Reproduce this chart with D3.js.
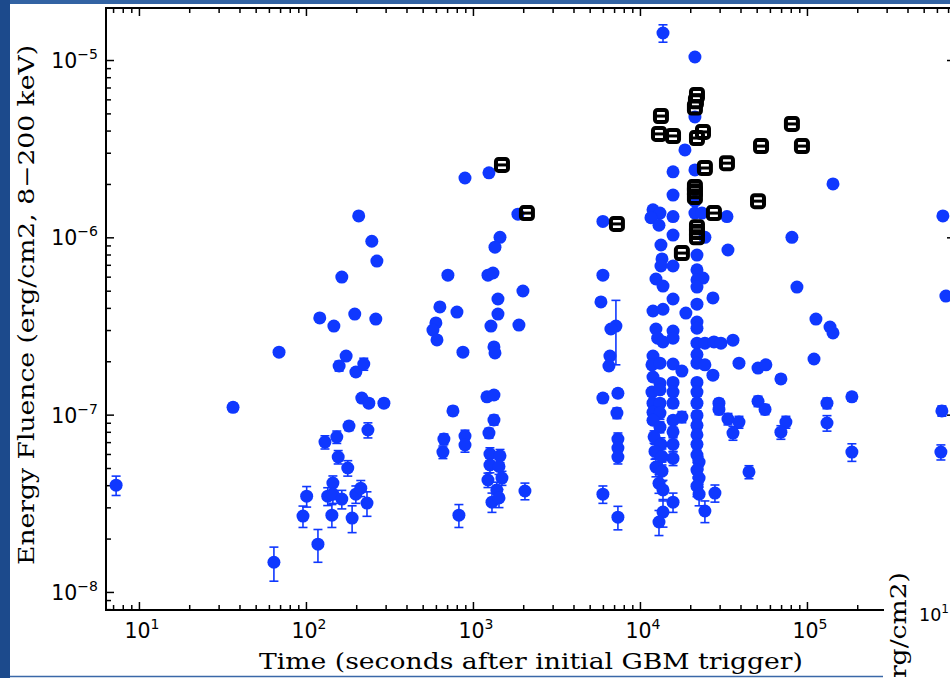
<!DOCTYPE html>
<html><head><meta charset="utf-8">
<script src="https://cdn.jsdelivr.net/npm/d3@7"></script>
<style>body{margin:0;background:#fff;overflow:hidden}svg{display:block}</style>
</head><body>
<svg id="c" width="950" height="678"></svg>
<script>
// ---- data ----
const circleTime = [7.3,36.6,69,64.3,96,101,118,207,248,266,164,121,147,196,262,174,158,199,222,216,238,293,181,235,153,130,156,178,145,135,145,164,199,213,232,143,189,
896,1247,1859,6000,1452,1355,708,1230,1318,1992,634,802,1412,1412,600,576,609,1282,1885,871,1336,1355,1213,1336,759,1336,1247,670,896,896,661,1264,1452,1264,1432,1230,1492,1390,1300,1432,824,2048,
6000,5840,7180,6700,6610,6520,6000,7380,7280,7380,7380,7380,6000,7380,
13740,21340,21340,18600,15780,21340,143200,15780,21340,11970,13180,11640,13000,15780,21340,23500,33190,651600,15780,24490,81280,13360,33650,21950,13550,13360,15780,21950,23850,12470,13740,21950,21950,87100,679000,27350,15780,21950,11970,13740,18840,21950,21950,12470,15780,113200,137400,143200,12770,13740,15780,21950,24490,27730,30550,36060,11970,21950,11800,13180,15780,17830,21950,24490,39170,50930,56760,110200,27350,69830,11970,13180,15780,21950,11800,13180,15780,21950,642700,11970,13180,15780,21950,29720,29720,50930,56100,131800,185800,11970,13180,17830,33650,39170,74800,131800,36060,69830,185800,634000,12470,13550,13000,13740,15780,15780,13740,13000,21950,22600,21950,22600,21950,22600,24490,28120,44960,11970,13180,12150,13360,12300,13550,15780,15780,15780,21950,21950,21950,21950];
const circleFluence = [4.0e-8,1.10e-7,2.25e-7,1.47e-8,2.68e-8,3.47e-8,1.86e-8,1.32e-6,9.5e-7,7.35e-7,5.97e-7,3.51e-7,3.16e-7,3.69e-7,3.46e-7,2.14e-7,1.88e-7,1.74e-7,1.93e-7,1.24e-7,1.16e-7,1.16e-7,8.63e-8,8.19e-8,7.48e-8,7.0e-8,5.77e-8,5.0e-8,4.11e-8,3.47e-8,3.56e-8,3.34e-8,3.56e-8,3.85e-8,3.17e-8,2.71e-8,2.61e-8,
2.16e-6,2.31e-6,1.35e-6,1.23e-6,1.0e-6,8.8e-7,6.12e-7,6.12e-7,6.29e-7,4.98e-7,4.05e-7,3.79e-7,4.49e-7,3.69e-7,3.29e-7,3.0e-7,2.64e-7,3.16e-7,3.2e-7,2.25e-7,2.41e-7,2.23e-7,1.26e-7,1.29e-7,1.05e-7,9.33e-8,7.87e-8,7.28e-8,7.57e-8,6.74e-8,6.15e-8,6.0e-8,5.86e-8,5.2e-8,5.1e-8,4.28e-8,4.39e-8,3.76e-8,3.21e-8,3.39e-8,2.71e-8,3.71e-8,
6.12e-7,4.32e-7,3.16e-7,3.04e-7,2.14e-7,1.88e-7,1.24e-7,1.32e-7,1.02e-7,7.28e-8,6.48e-8,5.77e-8,3.56e-8,2.64e-8,
1.42e-5,1.04e-5,4.77e-6,3.11e-6,2.34e-6,2.40e-6,2.0e-6,1.73e-6,1.6e-6,1.43e-6,1.37e-6,1.29e-6,1.17e-6,1.31e-6,1.37e-6,1.37e-6,1.31e-6,1.32e-6,1.03e-6,1.0e-6,1.0e-6,9.05e-7,8.48e-7,7.94e-7,7.55e-7,6.89e-7,6.89e-7,6.56e-7,5.89e-7,5.82e-7,5.31e-7,5.75e-7,5.24e-7,5.24e-7,4.66e-7,4.55e-7,4.49e-7,4.2e-7,3.84e-7,3.93e-7,3.74e-7,3.33e-7,3.07e-7,3.04e-7,2.96e-7,3.46e-7,3.12e-7,2.89e-7,2.70e-7,2.57e-7,2.70e-7,2.53e-7,2.53e-7,2.57e-7,2.53e-7,2.63e-7,2.14e-7,2.18e-7,1.91e-7,1.95e-7,1.93e-7,1.76e-7,1.95e-7,1.91e-7,1.95e-7,1.83e-7,1.91e-7,2.06e-7,1.67e-7,1.59e-7,1.63e-7,1.5e-7,1.52e-7,1.52e-7,1.34e-7,1.38e-7,1.34e-7,1.34e-7,1.05e-7,1.16e-7,1.16e-7,1.16e-7,1.16e-7,1.16e-7,1.07e-7,1.19e-7,1.07e-7,1.16e-7,1.26e-7,1.03e-7,1.02e-7,9.7e-8,9.45e-8,9.08e-8,9.08e-8,8.97e-8,7.87e-8,7.96e-8,6.15e-8,6.15e-8,5.06e-8,4.8e-8,4.1e-8,3.76e-8,5.66e-8,3.21e-8,2.82e-8,2.48e-8,5.92e-8,5.4e-8,4.87e-8,4.39e-8,3.95e-8,3.56e-8,2.86e-8,3.61e-8,4.75e-8,9.3e-8,8.5e-8,7.5e-8,6.8e-8,6.2e-8,5.8e-8,9.3e-8,8.0e-8,6.8e-8,9.9e-8,8.7e-8,7.7e-8,6.8e-8];
const circleError = [5e-9,6e-9,8e-9,3.2e-9,3.7e-9,4.6e-9,3.9e-9,2e-8,2e-8,2e-8,1.5e-8,1e-8,1e-8,1e-8,1e-8,8e-9,1.2e-8,8e-9,1.5e-8,6e-9,6e-9,6e-9,5e-9,8e-9,6e-9,6e-9,5e-9,5e-9,4e-9,4e-9,4e-9,4e-9,4e-9,4e-9,5e-9,4e-9,4.5e-9,
3e-8,3e-8,2e-8,2e-8,2e-8,2e-8,1.5e-8,1.5e-8,1.5e-8,1.2e-8,1e-8,1e-8,1e-8,1e-8,1e-8,1e-8,8e-9,1e-8,1e-8,8e-9,8e-9,8e-9,6e-9,6e-9,6e-9,6e-9,5e-9,5e-9,6e-9,6e-9,5e-9,5e-9,5e-9,5e-9,5e-9,4e-9,4e-9,4e-9,4e-9,4e-9,4e-9,4e-9,
1.5e-8,1e-8,1.25e-7,1e-8,8e-9,8e-9,7e-9,7e-9,7e-9,6e-9,5e-9,5e-9,4e-9,4e-9,
1.6e-6,1e-7,8e-8,5e-8,4e-8,4e-8,4e-8,3e-8,3e-8,3e-8,3e-8,3e-8,3e-8,3e-8,3e-8,3e-8,3e-8,3e-8,2e-8,2e-8,2e-8,2e-8,2e-8,2e-8,2e-8,1.5e-8,1.5e-8,1.5e-8,1.5e-8,1.5e-8,1.5e-8,1.5e-8,1.5e-8,1.5e-8,1e-8,1e-8,1e-8,1e-8,1e-8,1e-8,1e-8,1e-8,1e-8,1e-8,1e-8,1e-8,1e-8,1e-8,8e-9,8e-9,8e-9,8e-9,8e-9,8e-9,8e-9,8e-9,8e-9,8e-9,8e-9,8e-9,8e-9,8e-9,8e-9,8e-9,8e-9,8e-9,8e-9,8e-9,8e-9,8e-9,7e-9,7e-9,7e-9,7e-9,7e-9,7e-9,7e-9,7e-9,7e-9,7e-9,6e-9,7e-9,7e-9,7e-9,7e-9,8e-9,7e-9,8e-9,7e-9,8e-9,8e-9,7e-9,7e-9,7e-9,7e-9,9e-9,7e-9,7e-9,7e-9,6e-9,6e-9,6e-9,5e-9,5e-9,5e-9,4e-9,5e-9,4e-9,4e-9,4e-9,5e-9,5e-9,5e-9,5e-9,4e-9,4e-9,4e-9,4.5e-9,6e-9,6e-9,6e-9,6e-9,6e-9,5e-9,5e-9,6e-9,6e-9,6e-9,6e-9,6e-9,6e-9,6e-9];
const squareTime = [1492,2105,7280,13360,13000,15780,21950,21640,21340,23850,21950,81280,53090,93330,33190,24490,21340,21340,21340,50930,27730,21950,21950,21950,17830];
const squareFluence = [2.56e-6,1.37e-6,1.19e-6,4.83e-6,3.83e-6,3.73e-6,6.35e-6,5.85e-6,5.4e-6,3.93e-6,3.63e-6,4.36e-6,3.27e-6,3.27e-6,2.62e-6,2.46e-6,1.92e-6,1.82e-6,1.69e-6,1.60e-6,1.37e-6,1.14e-6,1.07e-6,1.0e-6,8.15e-7];
const xMajorExponents = [1,2,3,4,5];
const yMajorExponents = [-5,-6,-7,-8];
const xLimits = [6.35, 7.7e5];
const yLimits = [7.91e-9, 1.965e-5];
const xLabel = "Time (seconds after initial GBM trigger)";
const yLabel = "Energy Fluence (erg/cm2, 8\u2212200 keV)";
const overlayYLabel = "Energy Fluence (erg/cm2)";

// ---- drawing ----
const svg = d3.select("#c");
const L = 106, R = 955, T = 8, B = 610;
const x = d3.scaleLog().domain(xLimits).range([L, R]);
const y = d3.scaleLog().domain(yLimits).range([B, T]);
const blue = "#0f38ff";

svg.append("rect").attr("width", 950).attr("height", 678).attr("fill", "#fff");

function minorTicks(lo, hi, dLo, dHi) {
  const out = [];
  for (let d = dLo; d <= dHi; d++) for (let m = 2; m <= 9; m++) {
    const v = m * Math.pow(10, d);
    if (v > lo && v < hi) out.push(v);
  }
  return out;
}
const xMinor = minorTicks(xLimits[0], xLimits[1], 0, 6);
const yMinor = minorTicks(yLimits[0], yLimits[1], -9, -5);
const xMajor = xMajorExponents.map(e => Math.pow(10, e));
const yMajor = yMajorExponents.map(e => Math.pow(10, e));

function addAxis(gen, tx, ty) {
  const g = svg.append("g").attr("transform", `translate(${tx},${ty})`).call(gen);
  g.select(".domain").remove();
  g.selectAll(".tick line").attr("stroke", "#000").attr("stroke-width", 1.5);
  g.selectAll("text").remove();
}
const MAJ = 8, MIN = 5;
addAxis(d3.axisBottom(x).tickValues(xMinor).tickSize(-MIN), 0, B);
addAxis(d3.axisBottom(x).tickValues(xMajor).tickSize(-MAJ), 0, B);
addAxis(d3.axisTop(x).tickValues(xMinor).tickSize(-MIN), 0, T);
addAxis(d3.axisTop(x).tickValues(xMajor).tickSize(-MAJ), 0, T);
addAxis(d3.axisLeft(y).tickValues(yMinor).tickSize(-MIN), L, 0);
addAxis(d3.axisLeft(y).tickValues(yMajor).tickSize(-MAJ), L, 0);
addAxis(d3.axisRight(y).tickValues(yMinor).tickSize(-MIN), R, 0);
addAxis(d3.axisRight(y).tickValues(yMajor).tickSize(-MAJ), R, 0);

// spines
svg.append("rect").attr("x", L).attr("y", T).attr("width", R - L).attr("height", B - T)
  .attr("fill", "none").attr("stroke", "#000").attr("stroke-width", 2);

// tick labels
const tf = "'DejaVu Sans', sans-serif";
xMajorExponents.forEach(e => {
  const t = svg.append("text").attr("x", x(Math.pow(10, e)) + 3).attr("y", 638)
    .attr("text-anchor", "middle").attr("font-family", tf).attr("font-size", 20.5).attr("fill", "#000");
  t.append("tspan").text("10");
  t.append("tspan").attr("dy", -9).attr("font-size", 14).text(String(e));
});
yMajorExponents.forEach(e => {
  const t = svg.append("text").attr("x", 98).attr("y", y(Math.pow(10, e)) + 8)
    .attr("text-anchor", "end").attr("font-family", tf).attr("font-size", 20.5).attr("fill", "#000");
  t.append("tspan").text("10");
  t.append("tspan").attr("dy", -9).attr("font-size", 14).text("\u2212" + Math.abs(e));
});

// axis titles
const sf = "'DejaVu Serif', serif";
svg.append("text").attr("x", 259).attr("y", 669).attr("font-family", sf).attr("font-size", 21.5)
  .attr("textLength", 544).attr("lengthAdjust", "spacingAndGlyphs").attr("fill", "#000").text(xLabel);
const yl = svg.append("text").attr("transform", "translate(34,565) rotate(-90)").attr("font-family", sf).attr("font-size", 21.5)
  .attr("fill", "#000").text(yLabel);
const stretch = 520 / yl.node().getComputedTextLength();
yl.attr("textLength", 520).attr("lengthAdjust", "spacingAndGlyphs");

// data
const circles = circleTime.map((t, i) => ({t, f: circleFluence[i], e: circleError[i]}));
const squares = squareTime.map((t, i) => ({t, f: squareFluence[i]}));
const eb = svg.append("g").attr("stroke", blue).attr("stroke-width", 1.6);
circles.forEach(d => {
  const cx = x(d.t), y1 = y(d.f + d.e), y2 = y(Math.max(d.f - d.e, 1e-12));
  eb.append("line").attr("x1", cx).attr("x2", cx).attr("y1", y1).attr("y2", y2);
  eb.append("line").attr("x1", cx - 4.5).attr("x2", cx + 4.5).attr("y1", y1).attr("y2", y1);
  eb.append("line").attr("x1", cx - 4.5).attr("x2", cx + 4.5).attr("y1", y2).attr("y2", y2);
});
svg.append("g").selectAll("circle").data(circles).join("circle")
  .attr("cx", d => x(d.t)).attr("cy", d => y(d.f)).attr("r", 6.5).attr("fill", blue);
const sq = svg.append("g").selectAll("g").data(squares).join("g")
  .attr("transform", d => `translate(${x(d.t)},${y(d.f)})`);
sq.append("rect").attr("x", -6).attr("y", -6).attr("width", 12).attr("height", 12).attr("rx", 2.5)
  .attr("fill", "none").attr("stroke", "#000").attr("stroke-width", 4);
sq.append("line").attr("x1", -6).attr("x2", 6).attr("stroke", "#000").attr("stroke-width", 3);

// overlapping second panel fragment (bottom-right)
svg.append("rect").attr("x", 884).attr("y", 540).attr("width", 66).attr("height", 138).attr("fill", "#fff");
const ol = svg.append("text").attr("transform", "translate(906,572) rotate(-90)").attr("text-anchor", "end")
  .attr("font-family", sf).attr("font-size", 21.5).attr("fill", "#000").text(overlayYLabel);
ol.attr("textLength", ol.node().getComputedTextLength() * stretch).attr("lengthAdjust", "spacingAndGlyphs");
const ot = svg.append("text").attr("x", 919).attr("y", 621).attr("font-family", tf).attr("font-size", 17.5).attr("fill", "#000");
ot.append("tspan").text("10");
ot.append("tspan").attr("dy", -8).attr("font-size", 12).text("1");

// slide frame
svg.append("rect").attr("x", 0).attr("y", 0).attr("width", 950).attr("height", 4).attr("fill", "#3263a3");
svg.append("rect").attr("x", 0).attr("y", 0).attr("width", 10).attr("height", 678).attr("fill", "#1c4a8c");
svg.append("line").attr("x1", 10).attr("x2", 883).attr("y1", 676.5).attr("y2", 676.5).attr("stroke", "#3a68a8").attr("stroke-width", 1.5);
</script>
</body></html>
